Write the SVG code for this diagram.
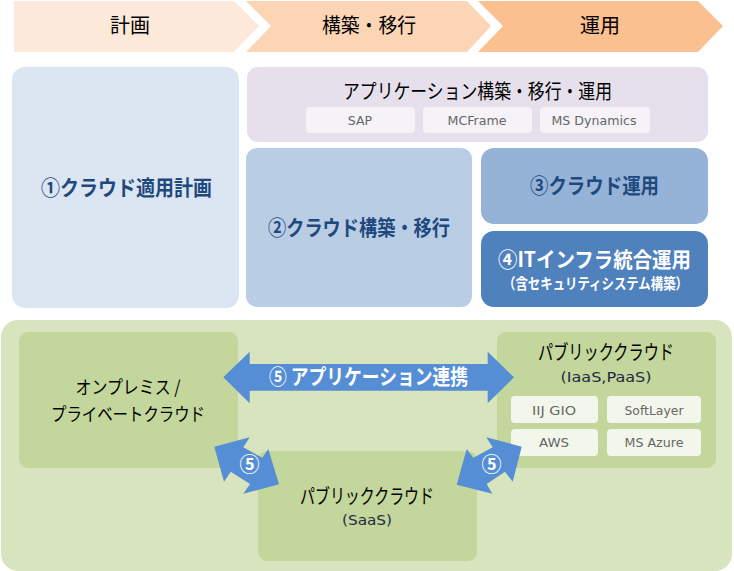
<svg xmlns="http://www.w3.org/2000/svg" width="734" height="571" viewBox="0 0 734 571">
<style>
text{text-anchor:middle;font-family:"Noto Sans CJK JP","DejaVu Sans",sans-serif;fill:#000}
.h{font-size:20px}
.b{font-weight:700;font-size:21px}
.navy{fill:#1f497d}
.w{fill:#fff}
.lat{font-family:"DejaVu Sans","Noto Sans CJK JP",sans-serif;font-size:12.5px;fill:#666}
.sub{font-family:"DejaVu Sans",sans-serif;font-size:14px;fill:#1f2a44}
.chip{fill:#fff;fill-opacity:.6}
.chip2{fill:#fff;fill-opacity:.8}
.con{fill:#558ed5}
</style>
<rect width="734" height="571" fill="#fff"/>
<g id="phase1"><path d="M14 1H234L259 26L234 52H14Z" fill="#fde9d9"/><text class="h" x="130" y="33">計画</text></g>
<g id="phase2"><path d="M246 1H467L491 26L467 52H246L271 26Z" fill="#fcd5b5"/><text class="h" x="369" y="33" textLength="94" lengthAdjust="spacingAndGlyphs">構築・移行</text></g>
<g id="phase3"><path d="M478 1H698L723 26L698 52H478L503 26Z" fill="#fac090"/><text class="h" x="600" y="33">運用</text></g>
<g id="plan"><rect x="12" y="67" width="227" height="241" rx="13" fill="#dce6f2"/><text class="b navy" x="126.5" y="195" textLength="171" lengthAdjust="spacingAndGlyphs">①クラウド適用計画</text></g>
<g id="app"><rect x="247" y="67" width="461" height="75" rx="11" fill="#e6e0ec"/><text class="h" x="477.5" y="99" textLength="269" lengthAdjust="spacingAndGlyphs">アプリケーション構築・移行・運用</text>
<rect class="chip" x="306" y="107" width="109" height="26" rx="4"/><text class="lat" x="360" y="125">SAP</text>
<rect class="chip" x="423" y="107" width="109" height="26" rx="4"/><text class="lat" x="477" y="125" textLength="59" lengthAdjust="spacingAndGlyphs">MCFrame</text>
<rect class="chip" x="540" y="107" width="110" height="26" rx="4"/><text class="lat" x="594" y="125" textLength="85" lengthAdjust="spacingAndGlyphs">MS Dynamics</text></g>
<g id="build"><rect x="246" y="148" width="226" height="159" rx="11" fill="#b9cde5"/><text class="b navy" x="359" y="235" textLength="182" lengthAdjust="spacingAndGlyphs">②クラウド構築・移行</text></g>
<g id="ops"><rect x="481" y="148" width="227" height="76" rx="13" fill="#95b3d7"/><text class="b navy" x="594.5" y="193" textLength="129" lengthAdjust="spacingAndGlyphs">③クラウド運用</text></g>
<g id="infra"><rect x="481" y="231" width="227" height="76" rx="13" fill="#4f81bd"/><text class="b w" x="594.5" y="267" textLength="193" lengthAdjust="spacingAndGlyphs">④ITインフラ統合運用</text><text class="w" font-weight="700" font-size="15" x="595.5" y="288.5" textLength="185" lengthAdjust="spacingAndGlyphs">（含セキュリティシステム構築）</text></g>
<g id="bottom"><rect x="1" y="320" width="731" height="251" rx="17" fill="#d7e4bd"/></g>
<g id="onprem"><rect x="19" y="332" width="219" height="136" rx="9" fill="#c3d69b"/><text x="128" y="394" font-size="18" textLength="105" lengthAdjust="spacingAndGlyphs">オンプレミス /</text><text x="128" y="420.5" font-size="18" textLength="154" lengthAdjust="spacingAndGlyphs">プライベートクラウド</text></g>
<g id="saas"><rect x="258" y="451" width="219" height="110" rx="9" fill="#c3d69b"/><text class="h" x="367" y="504" textLength="134" lengthAdjust="spacingAndGlyphs">パブリッククラウド</text><text class="sub" x="367" y="525" textLength="50" lengthAdjust="spacingAndGlyphs">(SaaS)</text></g>
<g id="iaas"><rect x="497" y="332" width="219" height="136" rx="9" fill="#c3d69b"/><text class="h" x="606" y="360" textLength="136" lengthAdjust="spacingAndGlyphs">パブリッククラウド</text><text class="sub" x="606" y="382" textLength="91" lengthAdjust="spacingAndGlyphs">(IaaS,PaaS)</text>
<rect class="chip2" x="511" y="396" width="87" height="27" rx="4"/><text class="lat" x="554" y="415" textLength="44" lengthAdjust="spacingAndGlyphs">IIJ GIO</text>
<rect class="chip2" x="607" y="396" width="94" height="27" rx="4"/><text class="lat" x="654" y="415" textLength="59" lengthAdjust="spacingAndGlyphs">SoftLayer</text>
<rect class="chip2" x="511" y="429" width="87" height="27" rx="4"/><text class="lat" x="554" y="447" textLength="30" lengthAdjust="spacingAndGlyphs">AWS</text>
<rect class="chip2" x="607" y="429" width="94" height="27" rx="4"/><text class="lat" x="654" y="447" textLength="59" lengthAdjust="spacingAndGlyphs">MS Azure</text></g>
<g id="connectors">
<path class="con" d="M223.3 377.3L249.7 351.7V364H487.7V351.7L514 377.3L487.7 403.3V390.7H249.7V403.3Z"/>
<path class="con" d="M214.3 446.7L249.7 437.3L243.3 447.3L262.3 457.7L268.3 449L279 484.3L243.3 493.7L250 484L230.7 471.7L224 481.7Z"/>
<path class="con" d="M521.7 446.7L486.3 437.3L492.7 447.3L473.3 457.7L466.7 449L456.7 484.7L492.3 493.7L486.7 484L505 471.7L512.7 481.7Z"/>
<text class="b w" x="368.5" y="384" textLength="199" lengthAdjust="spacingAndGlyphs">⑤ アプリケーション連携</text>
<text class="w" font-weight="700" font-size="20" x="249.5" y="472">⑤</text>
<text class="w" font-weight="700" font-size="20" x="491.5" y="472">⑤</text>
</g>
</svg>
